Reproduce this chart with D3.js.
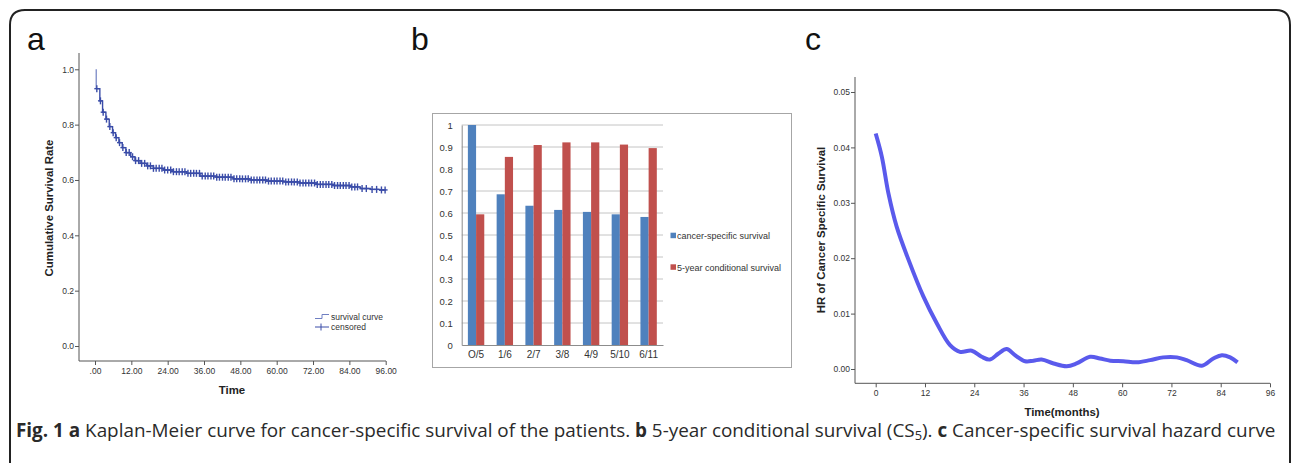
<!DOCTYPE html>
<html><head><meta charset="utf-8">
<script src="https://cdn.jsdelivr.net/npm/d3@7"></script>
<style>
html,body{margin:0;padding:0;background:#fff;}
svg{display:block;}
</style>
</head><body>
<script>
// ---------- Panel a: Kaplan-Meier ----------
const kmTimes = [0, 0.4, 1.6, 2.5, 3.6, 4.7, 5.8, 6.8, 7.9, 9.0, 10.2, 11.8, 13.2, 14.9, 17.1, 19.3, 22.6, 25.9, 30.3, 34.7, 40.2, 45.7, 51.2, 56.7, 62.2, 67.7, 73.2, 78.7, 84.3, 87.6, 90.9, 94.0];
const kmSurv  = [1.0, 0.93, 0.886, 0.845, 0.82, 0.793, 0.771, 0.753, 0.735, 0.717, 0.699, 0.684, 0.670, 0.660, 0.651, 0.642, 0.636, 0.630, 0.624, 0.614, 0.610, 0.604, 0.600, 0.596, 0.593, 0.589, 0.584, 0.580, 0.575, 0.569, 0.566, 0.564];
const kmEnd = 96;
const censorTimes = [0.6, 1.8, 2.7, 3.8, 4.9, 6.0, 7.0, 8.1, 9.2, 10.3, 11.3, 12.4, 13.4, 14.4, 15.4, 16.4, 17.4, 18.3, 19.3, 20.2, 21.2, 22.1, 23.0, 24.0, 25.0, 25.9, 26.9, 27.8, 28.8, 29.7, 30.7, 31.6, 32.6, 33.5, 34.5, 35.4, 36.4, 37.3, 38.3, 39.2, 40.2, 41.1, 42.1, 43.0, 44.0, 44.9, 45.9, 46.8, 47.8, 48.7, 49.7, 50.6, 51.6, 52.5, 53.5, 54.4, 55.4, 56.3, 57.3, 58.2, 59.2, 60.1, 61.1, 62.0, 63.0, 63.9, 64.9, 65.8, 66.8, 67.7, 68.7, 69.6, 70.6, 71.5, 72.5, 73.4, 74.4, 75.3, 76.3, 77.2, 78.2, 79.1, 80.1, 81.0, 82.0, 82.9, 83.9, 84.8, 85.8, 86.7, 88.2, 89.6, 91.5, 93.0, 94.6, 95.8];
const kmXTicks = [0, 12, 24, 36, 48, 60, 72, 84, 96];
const kmYTicks = [0, 0.2, 0.4, 0.6, 0.8, 1.0];
const kmLegend = ["survival curve", "censored"];

// ---------- Panel b: bars ----------
const barCategories = ["O/5", "1/6", "2/7", "3/8", "4/9", "5/10", "6/11"];
const cancerSpecific = [1.0, 0.685, 0.633, 0.614, 0.605, 0.594, 0.582];
const conditional5y = [0.594, 0.855, 0.909, 0.921, 0.921, 0.911, 0.895];
const barSeries = ["cancer-specific survival", "5-year conditional survival"];
const barYTicks = [0, 0.1, 0.2, 0.3, 0.4, 0.5, 0.6, 0.7, 0.8, 0.9, 1];

// ---------- Panel c: hazard ----------
const hrTime  = [0, 1.5, 3.1, 5.1, 8.0, 11.6, 14.9, 18.1, 20.5, 23.4, 25.8, 27.8, 29.9, 31.9, 33.9, 36.4, 38.4, 40.4, 43.3, 46.5, 48.9, 52.2, 54.6, 57.1, 60.3, 63.6, 66.8, 70.0, 73.3, 75.7, 79.4, 82.2, 84.3, 86.3, 88.1];
const hrValue = [0.0425, 0.0383, 0.0317, 0.0257, 0.0197, 0.0131, 0.0082, 0.0043, 0.0031, 0.0033, 0.0022, 0.0017, 0.0028, 0.0036, 0.0025, 0.0014, 0.0015, 0.0017, 0.0010, 0.0005, 0.0010, 0.0022, 0.0019, 0.0015, 0.0014, 0.0012, 0.0016, 0.0021, 0.0021, 0.0016, 0.0006, 0.0019, 0.0025, 0.0021, 0.0012];
const hrXTicks = [0, 12, 24, 36, 48, 60, 72, 84, 96];
const hrYTicks = [0, 0.01, 0.02, 0.03, 0.04, 0.05];

const W = 1292, H = 463;
const svg = d3.select("body").append("svg").attr("width", W).attr("height", H);
const SANS = "'Liberation Sans', Arial, sans-serif";

// outer frame
svg.append("path")
  .attr("d", "M10,470 L10,25 Q10,10 25,10 L1276,10 Q1290,10 1290,25 L1290,470")
  .attr("fill", "none").attr("stroke", "#222").attr("stroke-width", 2);

// panel letters
[["a", 27], ["b", 411], ["c", 805]].forEach(([t, x]) => {
  svg.append("text").attr("x", x).attr("y", 50).text(t)
    .attr("font-family", SANS).attr("font-size", 32).attr("fill", "#111");
});

// ======== Panel a ========
{
  const g = svg.append("g");
  const x = d3.scaleLinear().domain([0, 96]).range([95, 385.7]);
  const y = d3.scaleLinear().domain([0, 1]).range([346, 69.3]);
  const axCol = "#555";
  g.append("line").attr("x1", 79).attr("x2", 386).attr("y1", 361).attr("y2", 361).attr("stroke", axCol);
  g.append("line").attr("x1", 79).attr("x2", 79).attr("y1", 53).attr("y2", 361).attr("stroke", axCol);
  const xa = g.append("g").attr("transform", "translate(0,361)")
    .call(d3.axisBottom(x).tickValues(kmXTicks).tickSize(4).tickPadding(3)
      .tickFormat(d => d === 0 ? ".00" : d.toFixed(2)));
  const ya = g.append("g").attr("transform", "translate(79,0)")
    .call(d3.axisLeft(y).tickValues(kmYTicks).tickSize(4).tickPadding(1)
      .tickFormat(d => d.toFixed(1)));
  [xa, ya].forEach(a => {
    a.select(".domain").remove();
    a.selectAll("line").attr("stroke", axCol);
    a.selectAll("text").attr("font-family", SANS).attr("font-size", 8.5).attr("fill", "#333");
  });
  g.append("text").attr("x", 232).attr("y", 394).attr("text-anchor", "middle")
    .attr("font-family", SANS).attr("font-weight", "bold").attr("font-size", 11.4).attr("fill", "#222").text("Time");
  g.append("text").attr("transform", "translate(53,208) rotate(-90)").attr("text-anchor", "middle")
    .attr("font-family", SANS).attr("font-weight", "bold").attr("font-size", 11.4).attr("fill", "#222")
    .text("Cumulative Survival Rate");

  const col = "#3a4ca8";
  const pts = kmTimes.map((t, i) => [t, kmSurv[i]]);
  pts.push([kmEnd, kmSurv[kmSurv.length - 1]]);
  const line = d3.line().x(d => x(d[0])).y(d => y(d[1])).curve(d3.curveStepAfter);
  g.append("path").attr("d", line(pts.slice(1)))
    .attr("fill", "none").attr("stroke", col).attr("stroke-width", 1.4);
  g.append("path").attr("d", line([[kmTimes[1], kmSurv[0]], [kmTimes[1], kmSurv[1]]]))
    .attr("fill", "none").attr("stroke", "#6f7fc2").attr("stroke-width", 1.2);
  const survAt = t => { let s = kmSurv[0]; kmTimes.forEach((tt, i) => { if (tt <= t) s = kmSurv[i]; }); return s; };
  const cg = g.append("g").attr("stroke", col).attr("stroke-width", 1.4);
  censorTimes.forEach(t => {
    const cx = x(t), cy = y(survAt(t));
    cg.append("line").attr("x1", cx - 2.5).attr("x2", cx + 2.5).attr("y1", cy).attr("y2", cy);
    cg.append("line").attr("x1", cx).attr("x2", cx).attr("y1", cy - 3.5).attr("y2", cy + 3.5);
  });
  const lg = g.append("g");
  lg.append("path").attr("d", "M315,318.5 L322,318.5 L322,314.5 L329,314.5").attr("fill", "none").attr("stroke", "#6f7fc2").attr("stroke-width", 1);
  lg.append("line").attr("x1", 315).attr("x2", 329).attr("y1", 327).attr("y2", 327).attr("stroke", col).attr("stroke-width", 1);
  lg.append("line").attr("x1", 321).attr("x2", 321).attr("y1", 323.5).attr("y2", 330.5).attr("stroke", col).attr("stroke-width", 1);
  kmLegend.forEach((t, i) => {
    lg.append("text").attr("x", 331).attr("y", 320 + i * 10).text(t)
      .attr("font-family", SANS).attr("font-size", 8.5).attr("fill", "#333");
  });
}

// ======== Panel b ========
{
  const g = svg.append("g");
  g.append("rect").attr("x", 432.5).attr("y", 113.5).attr("width", 359).attr("height", 254)
    .attr("fill", "#fff").attr("stroke", "#a6a6a6").attr("stroke-width", 1);
  const x0 = d3.scaleBand().domain(barCategories).range([461.7, 663]).paddingInner(0.43).paddingOuter(0.215);
  const x1 = d3.scaleBand().domain(barSeries).range([0, x0.bandwidth()]);
  const y = d3.scaleLinear().domain([0, 1]).range([345, 125]);
  g.append("g").selectAll("line").data(barYTicks.filter(d => d > 0)).join("line")
    .attr("x1", 461.7).attr("x2", 663).attr("y1", d => y(d)).attr("y2", d => y(d))
    .attr("stroke", "#c4c4c4").attr("stroke-width", 1);
  const colors = ["#4f81bd", "#c0504d"];
  const vals = [cancerSpecific, conditional5y];
  barCategories.forEach((c, i) => {
    barSeries.forEach((s, j) => {
      g.append("rect").attr("x", x0(c) + x1(s)).attr("width", x1.bandwidth())
        .attr("y", y(vals[j][i])).attr("height", y(0) - y(vals[j][i])).attr("fill", colors[j]);
    });
  });
  const ya = g.append("g").attr("transform", "translate(461.7,0)")
    .call(d3.axisLeft(y).tickValues(barYTicks).tickSize(0).tickPadding(9).tickFormat(d3.format("")));
  ya.select(".domain").attr("stroke", "#8c8c8c");
  ya.selectAll("text").attr("font-family", SANS).attr("font-size", 9.5).attr("fill", "#333");
  const xa = g.append("g").attr("transform", "translate(0,345)")
    .call(d3.axisBottom(x0).tickSize(0).tickPadding(6));
  xa.select(".domain").attr("stroke", "#8c8c8c");
  xa.selectAll("text").attr("font-family", SANS).attr("font-size", 10).attr("fill", "#333");
  barSeries.forEach((s, j) => {
    const ly = [235.7, 267.3][j];
    g.append("rect").attr("x", 670.5).attr("y", ly - 3).attr("width", 5.5).attr("height", 5.5).attr("fill", colors[j]);
    g.append("text").attr("x", 677).attr("y", ly + 3.2).text(s)
      .attr("font-family", SANS).attr("font-size", 9).attr("fill", "#333");
  });
}

// ======== Panel c ========
{
  const g = svg.append("g");
  const x = d3.scaleLinear().domain([0, 96]).range([875.7, 1270]);
  const y = d3.scaleLinear().domain([0, 0.05]).range([369, 92]);
  const axCol = "#555";
  g.append("line").attr("x1", 855).attr("x2", 1270).attr("y1", 383.3).attr("y2", 383.3).attr("stroke", axCol);
  g.append("line").attr("x1", 855).attr("x2", 855).attr("y1", 77).attr("y2", 383.3).attr("stroke", axCol);
  const xa = g.append("g").attr("transform", "translate(0,383.3)")
    .call(d3.axisBottom(x).tickValues(hrXTicks).tickSize(4).tickPadding(3).tickFormat(d3.format("d")));
  const ya = g.append("g").attr("transform", "translate(855,0)")
    .call(d3.axisLeft(y).tickValues(hrYTicks).tickSize(4).tickPadding(1).tickFormat(d3.format(".2f")));
  [xa, ya].forEach(a => {
    a.select(".domain").remove();
    a.selectAll("line").attr("stroke", axCol);
    a.selectAll("text").attr("font-family", SANS).attr("font-size", 8.5).attr("fill", "#333");
  });
  g.append("text").attr("x", 1062).attr("y", 416).attr("text-anchor", "middle")
    .attr("font-family", SANS).attr("font-weight", "bold").attr("font-size", 11.4).attr("fill", "#222").text("Time(months)");
  g.append("text").attr("transform", "translate(825,230) rotate(-90)").attr("text-anchor", "middle")
    .attr("font-family", SANS).attr("font-weight", "bold").attr("font-size", 11.4).attr("fill", "#222")
    .text("HR of Cancer Specific Survival");
  const line = d3.line().x((d, i) => x(hrTime[i])).y((d, i) => y(hrValue[i])).curve(d3.curveCatmullRom.alpha(0.5));
  g.append("path").attr("d", line(hrTime)).attr("fill", "none")
    .attr("stroke", "#5a5aec").attr("stroke-width", 4).attr("stroke-linecap", "butt");
}

// ======== Caption ========
{
  const cap = svg.append("text").attr("x", 16).attr("y", 437)
    .attr("font-family", "'Open Sans', 'Noto Sans', sans-serif").attr("font-size", 16).attr("fill", "#2a2a2a");
  const parts = [
    ["Fig. 1 ", true], ["a", true], [" Kaplan-Meier curve for cancer-specific survival of the patients. ", false],
    ["b", true], [" 5-year conditional survival (CS", false]
  ];
  parts.forEach(([t, b]) => cap.append("tspan").attr("font-weight", b ? "bold" : null).text(t));
  cap.append("tspan").attr("font-size", 11).attr("dy", 3).text("5");
  cap.append("tspan").attr("dy", -3).text("). ");
  cap.append("tspan").attr("font-weight", "bold").text("c");
  cap.append("tspan").text(" Cancer-specific survival hazard curve");
  const w = cap.node().getComputedTextLength();
  const fs = 16 * 1260 / w;
  cap.attr("font-size", fs);
  cap.selectAll("tspan").filter(function(){ return d3.select(this).attr("font-size"); }).attr("font-size", fs * 0.68);
}
</script>
</body></html>
